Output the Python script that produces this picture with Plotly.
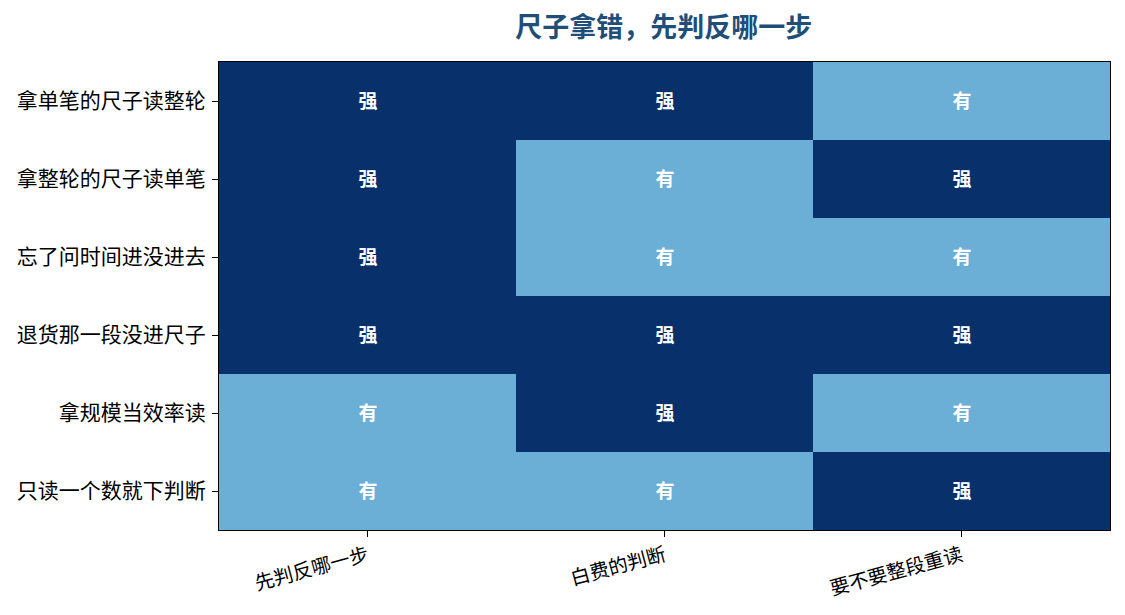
import plotly.graph_objects as go

rows = ["拿单笔的尺子读整轮", "拿整轮的尺子读单笔", "忘了问时间进没进去",
        "退货那一段没进尺子", "拿规模当效率读", "只读一个数就下判断"]
cols = ["先判反哪一步", "白费的判断", "要不要整段重读"]
labels = [
    ["强", "强", "有"],
    ["强", "有", "强"],
    ["强", "有", "有"],
    ["强", "强", "强"],
    ["有", "强", "有"],
    ["有", "有", "强"],
]
level = {"有": 1, "强": 2}
z = [[level[v] for v in r] for r in labels]

FONT = "Noto Sans CJK SC"

fig = go.Figure(go.Heatmap(
    z=z, x=cols, y=rows, text=labels,
    texttemplate="<b>%{text}</b>",
    textfont=dict(family=FONT, size=19, color="white"),
    colorscale=[[0, "#6baed6"], [0.5, "#6baed6"], [0.5, "#08306b"], [1, "#08306b"]],
    zmin=1, zmax=2, showscale=False, xgap=0, ygap=0,
    hoverinfo="skip",
))

fig.update_layout(
    width=1125, height=615,
    margin=dict(l=219, r=15, t=62, b=85),
    paper_bgcolor="white", plot_bgcolor="white",
    font=dict(family=FONT, size=19, color="black"),
    title=dict(text="<b>尺子拿错，先判反哪一步</b>", x=0.59, xanchor="center",
               y=0.955, yanchor="middle",
               font=dict(family=FONT, size=27, color="#1f4e79")),
)
fig.update_xaxes(showline=True, linecolor="black", linewidth=1.2, mirror=True,
                 ticks="outside", ticklen=6, tickcolor="black", tickangle=-15,
                 tickfont=dict(size=19.5))
fig.update_yaxes(showline=True, linecolor="black", linewidth=1.2, mirror=True,
                 ticks="outside", ticklen=6, tickcolor="black", autorange="reversed",
                 tickfont=dict(size=21), ticklabelstandoff=2)

fig.write_html("out.html")
